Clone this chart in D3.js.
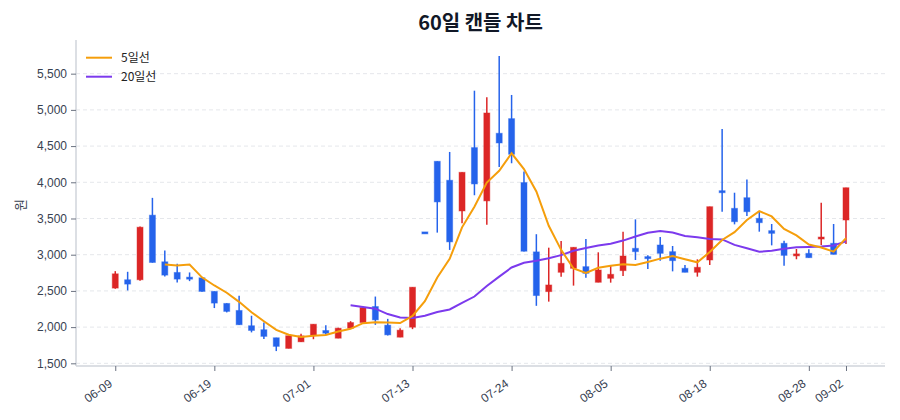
<!DOCTYPE html>
<html>
<head>
<meta charset="utf-8">
<script src="https://cdn.jsdelivr.net/npm/d3@7"></script>
<style>
  body { margin: 0; background: #fff; }
  svg { font-family: "Noto Sans CJK KR", "Noto Sans", sans-serif; }
</style>
</head>
<body>
<svg id="chart" width="900" height="420"></svg>
<script>
// 60 trading days, MM-DD
const dates = [
  '06-09','06-10','06-11','06-12','06-13','06-16','06-17','06-18','06-19','06-20',
  '06-23','06-24','06-25','06-26','06-27','06-30','07-01','07-02','07-03','07-04',
  '07-07','07-08','07-09','07-10','07-13','07-14','07-15','07-16','07-17','07-18',
  '07-21','07-22','07-24','07-25','07-28','07-29','07-30','07-31','08-01','08-04',
  '08-05','08-06','08-07','08-08','08-11','08-12','08-13','08-14','08-18','08-19',
  '08-20','08-21','08-22','08-25','08-26','08-27','08-28','08-29','09-01','09-02'
];
const tickDates = ['06-09','06-19','07-01','07-13','07-24','08-05','08-18','08-28','09-02'];

const open = [
  2539,2654,2654,3546,2902,2755,2690,2681,2493,2327,
  2230,2019,1964,1853,1706,1797,1889,1953,1847,1985,
  2063,2284,2027,1861,1999,3315,4290,4028,3604,4479,
  3743,4677,4879,3996,3039,2490,2757,2812,2835,2619,
  2674,2780,3088,2973,3134,3042,2812,2757,2927,3884,
  3640,3787,3502,3332,3157,3000,3019,3226,3157,3479
];
const high = [
  2773,2764,3390,3785,3058,2874,2755,2690,2493,2330,
  2433,2157,2065,1853,1881,1907,2040,2027,1990,2082,
  2270,2422,2114,1985,2551,3315,4290,4419,4138,5265,
  5173,5744,5206,4148,3283,3097,3189,3102,3217,3033,
  2849,3318,3488,2991,3244,3120,2858,2936,3663,4735,
  3856,4040,3594,3424,3194,3079,3074,3718,3424,3925
];
const low = [
  2530,2506,2640,2890,2700,2617,2635,2490,2263,2203,
  2030,1927,1835,1669,1706,1793,1833,1893,1847,1980,
  2063,2031,1884,1861,1972,3295,3305,3066,3434,3821,
  3412,4212,4263,3045,2294,2352,2697,2573,2683,2619,
  2614,2706,2927,2803,2918,2770,2757,2697,2858,3594,
  3419,3534,3318,3129,2849,2937,2959,3134,3005,3148
];
const close = [
  2736,2594,3380,2893,2718,2663,2670,2493,2332,2217,
  2033,1954,1872,1734,1881,1879,2040,1916,1985,2063,
  2270,2100,1893,1958,2551,3295,3729,3177,4138,3977,
  4957,4543,4387,3048,2436,2582,2881,3102,2743,2789,
  2729,2982,3042,2955,3019,2918,2757,2826,3663,3856,
  3456,3594,3442,3295,2991,3011,2959,3244,3005,3925
];
const yTicks = [1500, 2000, 2500, 3000, 3500, 4000, 4500, 5000, 5500];

const upColor = '#dc2626';
const downColor = '#2563eb';
const ma5Color = '#f59e0b';
const ma20Color = '#7c3aed';

function movingAvg(arr, n) {
  return arr.map((v, i) => i < n - 1 ? null : d3.mean(arr.slice(i - n + 1, i + 1)));
}
const ma5 = movingAvg(close, 5);
const ma20 = movingAvg(close, 20);

const plot = {left: 76, right: 885, top: 40, bottom: 366};
const svg = d3.select('#chart');

const x = d3.scaleLinear().domain([-3.17, 62.15]).range([plot.left, plot.right]);
const y = d3.scaleLinear().domain([1463, 5965]).range([plot.bottom, plot.top]);

// grid
svg.append('g')
  .selectAll('line')
  .data(yTicks).enter().append('line')
  .attr('x1', plot.left).attr('x2', plot.right)
  .attr('y1', d => y(d)).attr('y2', d => y(d))
  .attr('stroke', '#e5e7eb')
  .attr('stroke-dasharray', '4,3');

// y axis
const yAxis = svg.append('g')
  .attr('transform', `translate(${plot.left},0)`)
  .call(d3.axisLeft(y).tickValues(yTicks).tickFormat(d3.format(',')).tickSize(5).tickPadding(4));
yAxis.select('.domain').attr('stroke', '#d1d5db').attr('stroke-width', 1.5)
  .attr('d', `M0,${plot.top}V${plot.bottom}`);
yAxis.selectAll('.tick line').attr('stroke', '#6b7280');
yAxis.selectAll('.tick text').attr('fill', '#374151').attr('font-size', 12);

// x axis
const tickIdx = tickDates.map(t => dates.indexOf(t));
const xAxis = svg.append('g')
  .attr('transform', `translate(0,${plot.bottom})`)
  .call(d3.axisBottom(x).tickValues(tickIdx).tickFormat(i => dates[i]).tickSize(5));
xAxis.select('.domain').attr('stroke', '#d1d5db').attr('stroke-width', 1.5)
  .attr('d', `M${plot.left},0H${plot.right}`);
xAxis.selectAll('.tick line').attr('stroke', '#6b7280');
xAxis.selectAll('.tick text')
  .attr('fill', '#374151').attr('font-size', 12)
  .attr('text-anchor', 'end')
  .attr('dy', null)
  .attr('y', 0)
  .attr('transform', 'translate(-2.5,19.5) rotate(-35)');

// candles
const bw = 6;
const candles = svg.append('g')
  .selectAll('g')
  .data(close).enter().append('g')
  .attr('transform', (d, i) => `translate(${x(i)},0)`);
candles.append('line')
  .attr('y1', (d, i) => y(high[i]))
  .attr('y2', (d, i) => y(low[i]))
  .attr('stroke', (d, i) => close[i] >= open[i] ? upColor : downColor)
  .attr('stroke-width', 1.5);
candles.append('rect')
  .attr('x', -bw / 2)
  .attr('width', bw)
  .attr('y', (d, i) => y(Math.max(open[i], close[i])))
  .attr('height', (d, i) => Math.max(2, Math.abs(y(open[i]) - y(close[i]))))
  .attr('fill', (d, i) => close[i] >= open[i] ? upColor : downColor)
  .attr('stroke', (d, i) => close[i] >= open[i] ? upColor : downColor)
  .attr('stroke-opacity', 0.45)
  .attr('stroke-width', 1);

// moving averages
const line = d3.line()
  .defined(d => d != null)
  .x((d, i) => x(i))
  .y(d => y(d));
svg.append('path').datum(ma20)
  .attr('fill', 'none').attr('stroke', ma20Color).attr('stroke-width', 2)
  .attr('d', line);
svg.append('path').datum(ma5)
  .attr('fill', 'none').attr('stroke', ma5Color).attr('stroke-width', 2)
  .attr('d', line);

// legend
const legend = [['5일선', ma5Color], ['20일선', ma20Color]];
const lg = svg.append('g')
  .selectAll('g')
  .data(legend).enter().append('g')
  .attr('transform', (d, i) => `translate(86,${57.7 + i * 19})`);
lg.append('line').attr('x1', 0).attr('x2', 26)
  .attr('stroke', d => d[1]).attr('stroke-width', 2);
lg.append('text').attr('x', 35).attr('y', 4)
  .attr('font-size', 12).attr('fill', '#222')
  .text(d => d[0]);

// title and y label
svg.append('text')
  .attr('x', (plot.left + plot.right) / 2).attr('y', 30)
  .attr('text-anchor', 'middle')
  .attr('font-size', 20).attr('font-weight', 'bold').attr('fill', '#111827')
  .text('60일 캔들 차트');
svg.append('text')
  .attr('transform', 'translate(25,205) rotate(-90)')
  .attr('text-anchor', 'middle')
  .attr('font-size', 13).attr('fill', '#374151')
  .text('원');
</script>
</body>
</html>
